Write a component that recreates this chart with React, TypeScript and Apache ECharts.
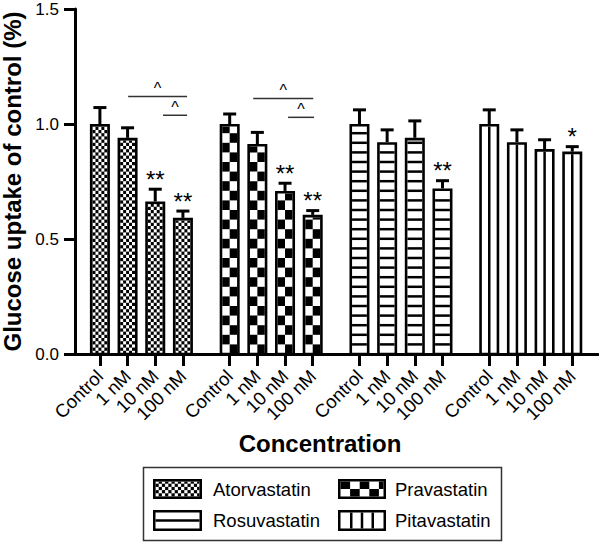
import React, { useEffect, useRef } from "react";
import * as echarts from "echarts";

// ---------------- data ----------------
const concentrations = ["Control", "1 nM", "10 nM", "100 nM"];
const drugs = ["Atorvastatin", "Pravastatin", "Rosuvastatin", "Pitavastatin"];

const atorvastatinMean = [1.0, 0.94, 0.663, 0.592];
const atorvastatinSem = [0.078, 0.05, 0.06, 0.036];
const pravastatinMean = [1.0, 0.913, 0.709, 0.605];
const pravastatinSem = [0.05, 0.057, 0.04, 0.025];
const rosuvastatinMean = [1.0, 0.921, 0.94, 0.72];
const rosuvastatinSem = [0.068, 0.06, 0.08, 0.04];
const pitavastatinMean = [1.0, 0.921, 0.891, 0.88];
const pitavastatinSem = [0.068, 0.06, 0.047, 0.028];

const significance = [
  ["", "", "**", "**"],
  ["", "", "**", "**"],
  ["", "", "", "**"],
  ["", "", "", "*"],
];

// comparison brackets between concentrations
const bracketGroups = [0, 0, 1, 1];
const bracketFrom = [1.02, 2.28, 0.85, 2.11];
const bracketTo = [3.15, 3.15, 3.02, 3.05];
const bracketY = [1.12, 1.038, 1.111, 1.029];
const bracketMark = ["^", "^", "^", "^"];

const yTicks = [0, 0.5, 1.0, 1.5];

const meanByDrug = [atorvastatinMean, pravastatinMean, rosuvastatinMean, pitavastatinMean];
const semByDrug = [atorvastatinSem, pravastatinSem, rosuvastatinSem, pitavastatinSem];

// ---------------- layout ----------------
const FONT = "'Liberation Sans', Arial, Helvetica, sans-serif";
const GROUP_STEP = 4.69;
const X_MIN = -0.9;
const X_MAX = 18.0;
const BAR_W = 0.723;

const positions: number[] = [];
drugs.forEach((_, g) => concentrations.forEach((_, i) => positions.push(g * GROUP_STEP + i)));

function rect(x: number, y: number, w: number, h: number, fill: string) {
  return { type: "rect", shape: { x, y, width: w, height: h }, style: { fill } };
}

function patternRects(kind: number, x: number, y: number, w: number, h: number, legend: boolean) {
  const out: any[] = [];
  const bottom = y + h;
  if (kind === 0 || kind === 1) {
    const fine = kind === 0;
    out.push(rect(x, y, w, h, fine ? "#000" : "#fff"));
    const cw = fine ? (legend ? 3.2 : w / 5) : legend ? 9.6 : w / 2;
    const ch = fine ? 3.2 : legend ? h / 2 : 9.6;
    const fill = fine ? "#fff" : "#000";
    for (let r = 0; r < 400; r++) {
      const y1 = bottom - (r + 1) * ch;
      if (y1 + ch <= y + 0.01) break;
      const yy = Math.max(y1, y);
      const hh = y1 + ch - yy;
      for (let c = 0; c * cw < w - 0.01; c++) {
        if ((r + c) % 2 !== (fine ? 0 : 1)) continue;
        const xx = x + c * cw;
        const ww = Math.min(cw, x + w - xx);
        out.push(rect(xx, yy, ww, hh, fill));
      }
    }
  } else if (kind === 2) {
    out.push(rect(x, y, w, h, "#fff"));
    const sp = legend ? h / 2 : 9.6;
    for (let k = 1; k < 400; k++) {
      const yc = bottom - k * sp;
      if (yc - 1.25 <= y) break;
      out.push(rect(x, yc - 1.25, w, 2.5, "#000"));
    }
  } else {
    out.push(rect(x, y, w, h, "#fff"));
    const n = legend ? 3 : 1;
    for (let k = 1; k <= n; k++) {
      const xc = x + (w * k) / (n + 1);
      out.push(rect(xc - 1.25, y, 2.5, h, "#000"));
    }
  }
  return out;
}

const barData: number[][] = [];
drugs.forEach((_, g) =>
  concentrations.forEach((_, i) => {
    barData.push([g * GROUP_STEP + i, meanByDrug[g][i], semByDrug[g][i], g, i]);
  })
);

const bracketData = bracketGroups.map((g, k) => [
  g * GROUP_STEP + bracketFrom[k],
  bracketY[k],
  g * GROUP_STEP + bracketTo[k],
  k,
]);

function renderBar(_params: any, api: any) {
  const xv = api.value(0);
  const v = api.value(1);
  const e = api.value(2);
  const kind = api.value(3);
  const idx = api.value(4);
  const topPt = api.coord([xv, v]);
  const basePt = api.coord([xv, 0]);
  const errPt = api.coord([xv, v + e]);
  const w = api.size([BAR_W, 0])[0];
  const cx = topPt[0];
  const left = cx - w / 2;
  const top = topPt[1];
  const base = basePt[1];
  const bw = 2.6;
  const children: any[] = [];
  children.push(...patternRects(kind, left + bw, top + bw, w - 2 * bw, base - top - bw, false));
  children.push({
    type: "rect",
    shape: { x: left + bw / 2, y: top + bw / 2, width: w - bw, height: base - top - bw / 2 },
    style: { fill: "none", stroke: "#000", lineWidth: bw },
  });
  const capY = errPt[1] + 1.5;
  children.push({ type: "line", shape: { x1: cx, y1: top, x2: cx, y2: capY }, style: { stroke: "#000", lineWidth: 3 } });
  children.push({
    type: "line",
    shape: { x1: cx - 6.5, y1: capY, x2: cx + 6.5, y2: capY },
    style: { stroke: "#000", lineWidth: 3 },
  });
  const mark = significance[kind][idx];
  if (mark) {
    children.push({
      type: "text",
      style: {
        text: mark,
        x: cx,
        y: errPt[1] - 8.5,
        fontSize: 24,
        fontFamily: FONT,
        fill: "#000",
        align: "center",
        verticalAlign: "middle",
      },
    });
  }
  return { type: "group", children };
}

function renderBracket(_params: any, api: any) {
  const p1 = api.coord([api.value(0), api.value(1)]);
  const p2 = api.coord([api.value(2), api.value(1)]);
  const k = api.value(3);
  return {
    type: "group",
    children: [
      {
        type: "line",
        shape: { x1: p1[0], y1: p1[1], x2: p2[0], y2: p2[1] },
        style: { stroke: "#333", lineWidth: 1.5 },
      },
      {
        type: "text",
        style: {
          text: bracketMark[k],
          x: (p1[0] + p2[0]) / 2,
          y: p1[1] - 7.5,
          fontSize: 16,
          fontFamily: FONT,
          fill: "#000",
          align: "center",
          verticalAlign: "middle",
        },
      },
    ],
  };
}

function legendGraphic() {
  const els: any[] = [];
  els.push({
    type: "rect",
    shape: { x: 143.5, y: 467.5, width: 358, height: 73 },
    style: { fill: "#fff", stroke: "#333", lineWidth: 1.5 },
  });
  const sx = [153, 338];
  const sy = [479, 510];
  const sw = [49, 48];
  const sh = [20, 21];
  const tx = [213, 395];
  const ty = [489, 520.5];
  drugs.forEach((name, k) => {
    const col = k % 2;
    const row = Math.floor(k / 2);
    const x = sx[col];
    const y = sy[row];
    const w = sw[col];
    const h = sh[row];
    const bw = 2.5;
    els.push(...patternRects(k, x + bw, y + bw, w - 2 * bw, h - 2 * bw, true));
    els.push({
      type: "rect",
      shape: { x: x + bw / 2, y: y + bw / 2, width: w - bw, height: h - bw },
      style: { fill: "none", stroke: "#000", lineWidth: bw },
    });
    els.push({
      type: "text",
      style: {
        text: name,
        x: tx[col],
        y: ty[row],
        fontSize: 18.5,
        fontFamily: FONT,
        fill: "#000",
        textAlign: "left",
        textVerticalAlign: "middle",
        align: "left",
        verticalAlign: "middle",
      },
    });
  });
  return els;
}

function labelFor(v: number) {
  const idx = positions.findIndex((p) => Math.abs(p - v) < 0.01);
  return idx >= 0 ? concentrations[idx % 4] : "";
}

export default function App() {
  const ref = useRef<HTMLDivElement>(null);
  useEffect(() => {
    if (!ref.current) return;
    const chart = echarts.init(ref.current, null, { renderer: "svg" });
    const option: any = {
      animation: false,
      backgroundColor: "#fff",
      grid: { left: 75, right: 1, top: 9, bottom: 188, containLabel: false, outerBoundsMode: "none" },
      xAxis: {
        type: "value",
        min: X_MIN,
        max: X_MAX,
        splitLine: { show: false },
        axisLine: { show: true, onZero: false, lineStyle: { color: "#000", width: 3 } },
        axisTick: { show: true, customValues: positions, length: 12, lineStyle: { color: "#000", width: 3 } },
        axisLabel: {
          show: true,
          customValues: positions,
          rotate: 45,
          margin: 19,
          padding: [14, 0, 0, 0],
          fontSize: 18.5,
          fontFamily: FONT,
          color: "#000",
          formatter: (v: number) => labelFor(v),
        },
      },
      yAxis: {
        type: "value",
        min: 0,
        max: 1.5,
        interval: 0.5,
        name: "Glucose uptake of control (%)",
        nameLocation: "middle",
        nameGap: 50,
        nameTextStyle: { fontSize: 24, fontWeight: "bold", fontFamily: FONT, color: "#000" },
        splitLine: { show: false },
        axisLine: { show: true, onZero: false, lineStyle: { color: "#000", width: 3 } },
        axisTick: { show: true, length: 11, lineStyle: { color: "#000", width: 3 } },
        axisLabel: {
          margin: 16,
          fontSize: 17,
          fontFamily: FONT,
          color: "#000",
          formatter: (v: number) => (yTicks.indexOf(v) >= 0 ? v.toFixed(1) : ""),
        },
      },
      series: [
        {
          type: "custom",
          name: "bars",
          renderItem: renderBar,
          data: barData,
          encode: { x: 0, y: 1 },
          z: 3,
        },
        {
          type: "custom",
          name: "brackets",
          renderItem: renderBracket,
          data: bracketData,
          encode: { x: [0, 2], y: 1 },
          z: 4,
        },
      ],
      graphic: [
        {
          type: "text",
          style: {
            text: "Concentration",
            x: 320,
            y: 443,
            fontSize: 24,
            fontWeight: "bold",
            fontFamily: FONT,
            fill: "#000",
            textAlign: "center",
            textVerticalAlign: "middle",
            align: "center",
            verticalAlign: "middle",
          },
        },
        { type: "group", children: legendGraphic() },
      ],
    };
    chart.setOption(option);
    return () => chart.dispose();
  }, []);
  return (
    <div
      ref={ref}
      style={{ position: "fixed", left: 0, top: 0, width: 599, height: 542, background: "#fff" }}
    />
  );
}
